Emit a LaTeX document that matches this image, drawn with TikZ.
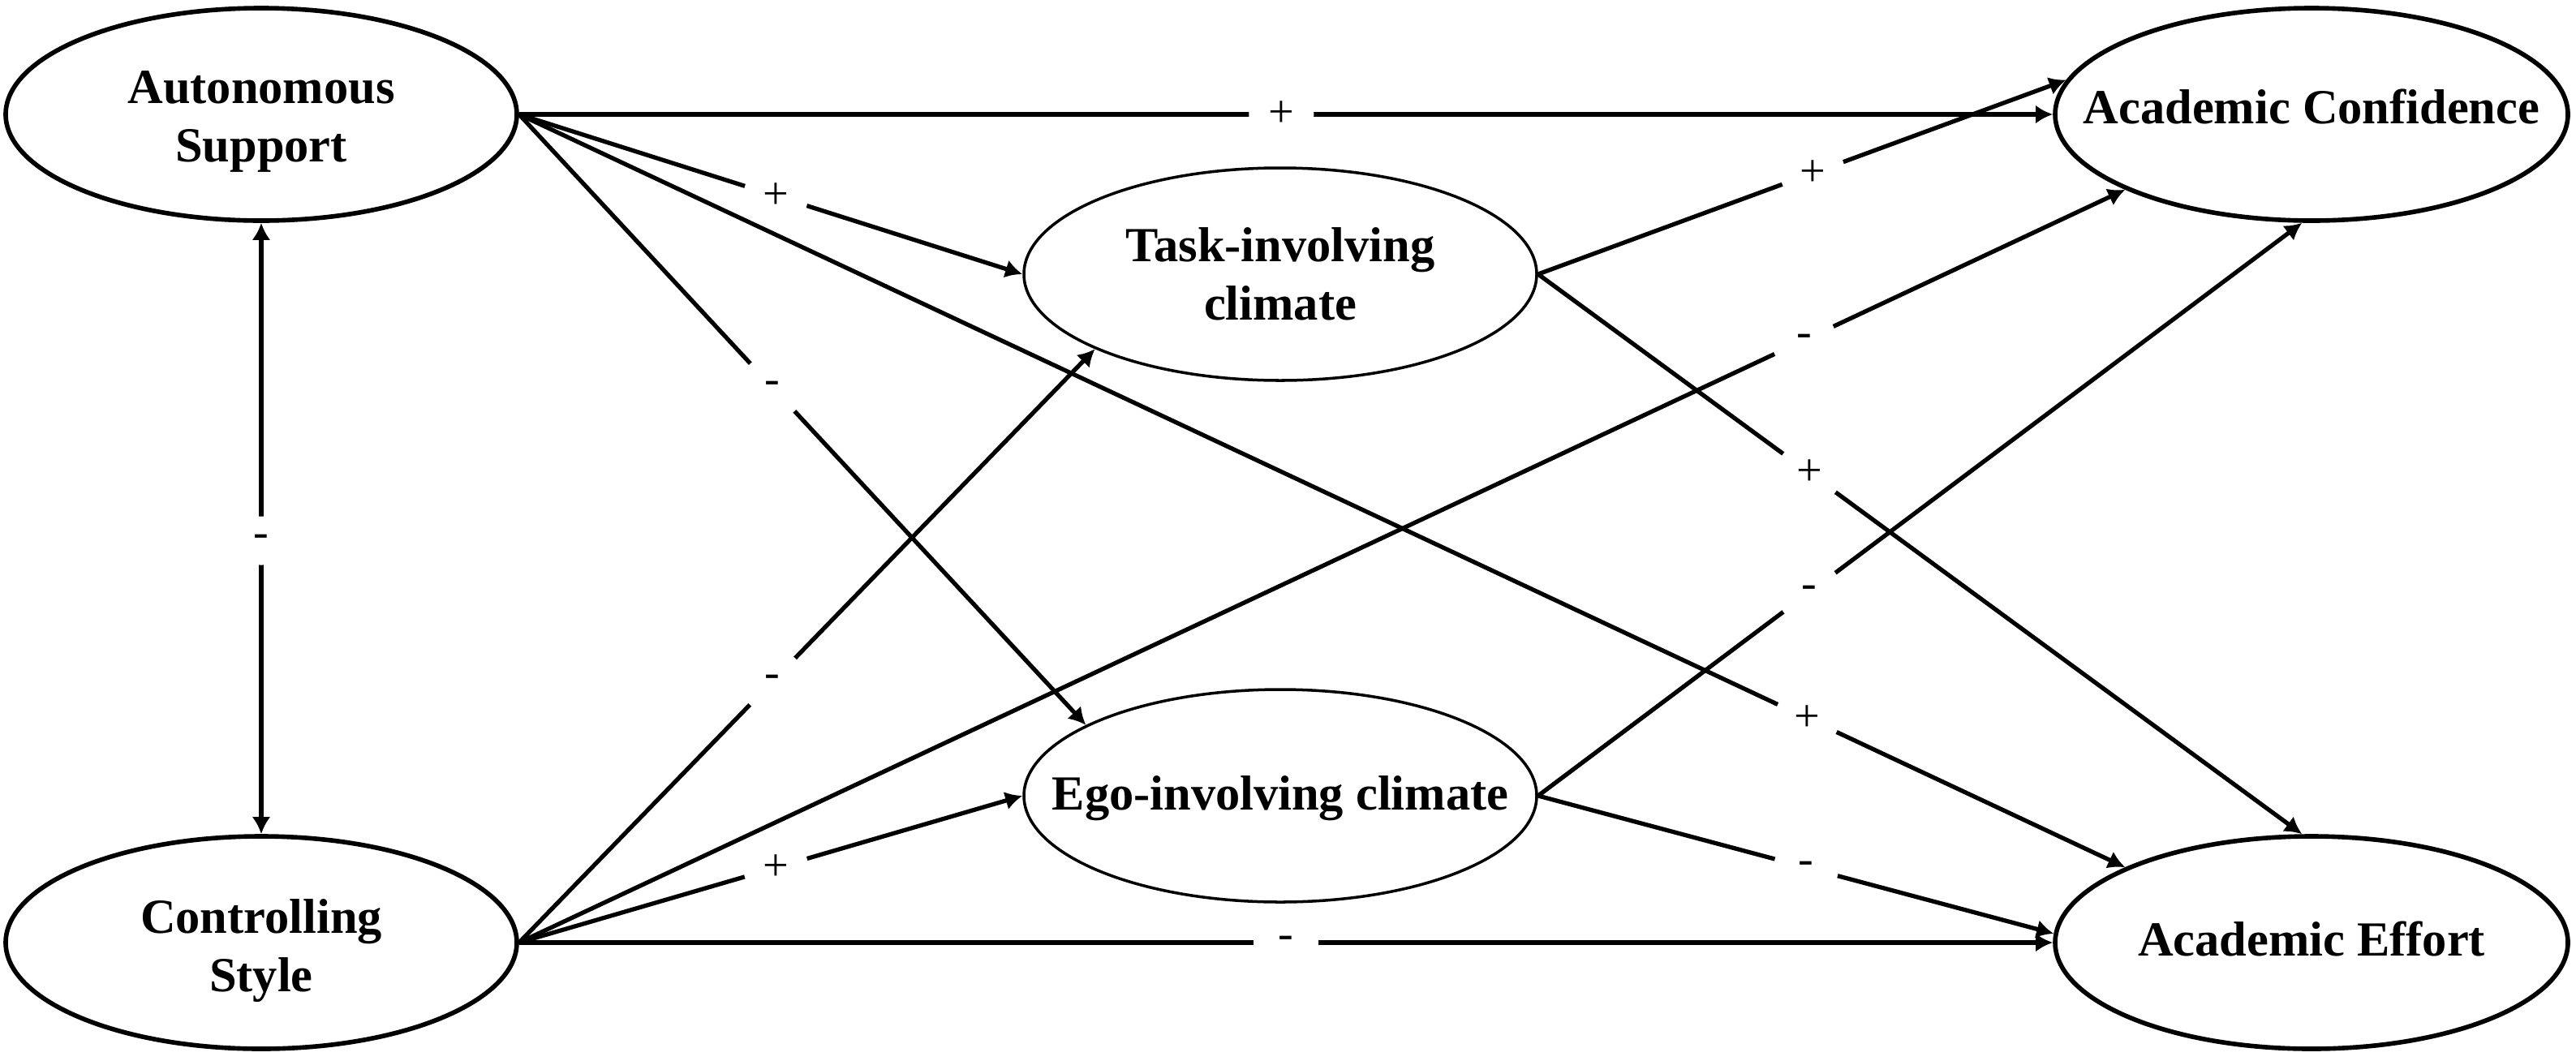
\documentclass[tikz,border=0pt]{standalone}
\usepackage{fontspec}
\setmainfont{Liberation Serif}
\usetikzlibrary{arrows.meta,shapes.geometric}
\begin{document}
\begin{tikzpicture}[
  lat/.style={ellipse, draw, line width=1.6pt, inner sep=0pt, minimum width=6.32cm, minimum height=2.62cm},
  latin/.style={ellipse, draw, line width=1.0pt, inner sep=0pt, minimum width=6.32cm, minimum height=2.62cm},
  txt/.style={align=center, inner sep=0pt, font=\bfseries\fontsize{17.2}{20.6}\selectfont},
  arr/.style={line width=1.5pt, -{Latex[length=6pt,width=6.5pt]}},
  arrtwo/.style={line width=1.5pt, {Latex[length=6pt,width=6.5pt]}-{Latex[length=6pt,width=6.5pt]}},
  lbl/.style={circle, fill=white, inner sep=0pt, minimum size=0.8cm, font=\fontsize{16}{18}\selectfont},
  lblv/.style={lbl, minimum size=0.6cm}
]
\useasboundingbox (0,0) rectangle (31.75,-13.07);

% latent variables
\node[lat, minimum width=6.30cm] (as) at (3.22,-1.41) {};
\node[lat, minimum width=6.30cm] (cs) at (3.22,-11.62) {};
\node[latin] (task) at (15.78,-3.38) {};
\node[latin] (ego) at (15.78,-9.81) {};
\node[lat] (ac) at (28.49,-1.41) {};
\node[lat] (ae) at (28.49,-11.62) {};

% texts
\node[txt, yshift=-0.09cm] (ast) at (as) {Autonomous\\Support};
\node[txt, yshift=-0.10cm] (cst) at (cs) {Controlling\\Style};
\node[txt] (taskt) at (task) {Task-involving\\climate};
\node[txt, yshift=-0.03cm] (egot) at (ego) {Ego-involving climate};
\node[txt, yshift=0.095cm] (act) at (ac) {Academic Confidence};
\node[txt, yshift=0.045cm] (aet) at (ae) {Academic Effort};

% paths
\draw[arr] (as.east) -- node[lbl, pos=0.497] (l1) {+} (ac.west);
\draw[arr] (as.east) -- node[lbl, pos=0.51] (l2) {+} (task.west);
\draw[arr] (as.east) -- node[lbl, pos=0.447] (l3) {-} (ego.160);
\draw[arr] (as.east) -- node[lbl, pos=0.802] (l4) {+} (ae.158);
\draw[arrtwo] (as.south) -- node[lblv, pos=0.52] (l5) {-} (cs.north);
\draw[arr] (cs.east) -- node[lbl, pos=0.44] (l6) {-} (task.202);
\draw[arr] (cs.east) -- node[lbl, pos=0.80] (l7) {-} (ac.202);
\draw[arr] (cs.east) -- node[lbl, pos=0.51] (l8) {+} (ego.west);
\draw[arr] (cs.east) -- node[lbl, pos=0.50] (l9) {-} (ae.west);
\draw[arr] (task.east) -- node[lbl, pos=0.52] (l10) {+} (ac.172);
\draw[arr] (task.east) -- node[lbl, pos=0.355] (l11) {+} (ae.95);
\draw[arr] (ego.east) -- node[lbl, pos=0.355] (l12) {-} (ac.265);
\draw[arr] (ego.east) -- node[lbl, pos=0.52] (l13) {-} (ae.178);
\end{tikzpicture}
\end{document}
